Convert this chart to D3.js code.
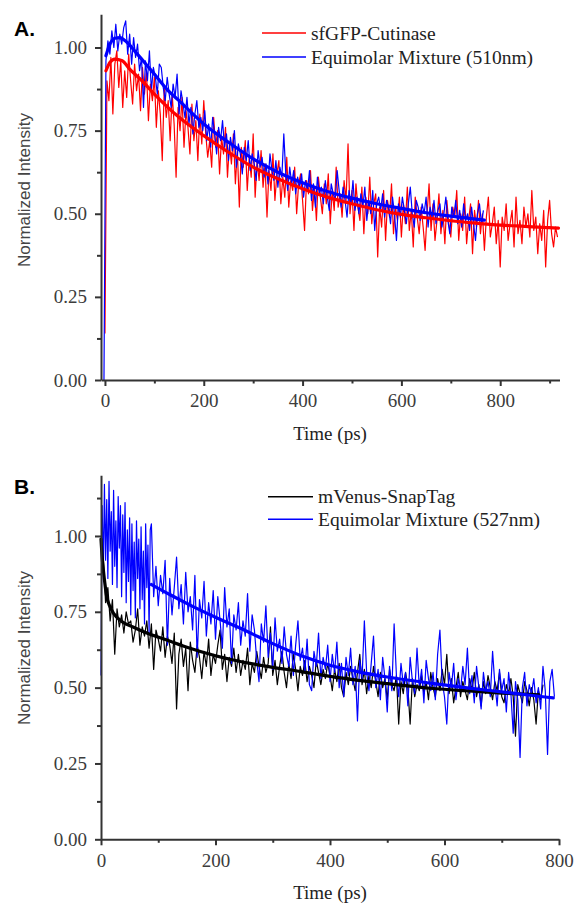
<!DOCTYPE html>
<html>
<head>
<meta charset="utf-8">
<script src="https://cdn.jsdelivr.net/npm/d3@7"></script>
<style>
  html, body { margin: 0; padding: 0; background: #fff; }
  svg { display: block; }
</style>
</head>
<body>
<svg id="chart" width="575" height="903"></svg>
<script>
/* =========================================
   Time-resolved fluorescence decays
   Panel A: sfGFP-Cutinase vs mixture (510nm)
   Panel B: mVenus-SnapTag vs mixture (527nm)
   ========================================= */

// ---- Shared ticks ----
const yMajor = [0, 0.25, 0.5, 0.75, 1.0];
const xMajor = [0, 200, 400, 600, 800];

// ---- Panel A data (sampled every 4 ps) ----
const aDt = 4;
const aRedStart = 0;
const aBlueStart = -2;

const aRedData = [
  0.14, 0.90, 0.84, 0.97, 0.80, 0.95, 0.99, 0.88, 0.96, 0.82,
  0.93, 0.85, 0.98, 0.90, 0.83, 0.95, 0.87, 0.92, 0.81, 0.94,
  0.86, 0.93, 0.78, 0.89, 0.84, 0.91, 0.76, 0.87, 0.80, 0.66,
  0.88, 0.79, 0.84, 0.72, 0.86, 0.77, 0.61, 0.82, 0.75, 0.85,
  0.70, 0.81, 0.76, 0.68, 0.83, 0.72, 0.78, 0.66, 0.80, 0.71,
  0.84, 0.74, 0.67, 0.72, 0.64, 0.79, 0.70, 0.75, 0.62, 0.73,
  0.68, 0.76, 0.61, 0.71, 0.65, 0.74, 0.59, 0.69, 0.52, 0.70,
  0.64, 0.72, 0.57, 0.67, 0.61, 0.74, 0.55, 0.66, 0.60, 0.69,
  0.58, 0.65, 0.49, 0.63, 0.57, 0.68, 0.54, 0.62, 0.66, 0.53,
  0.61, 0.55, 0.67, 0.52, 0.60, 0.57, 0.64, 0.50, 0.59, 0.62,
  0.54, 0.45, 0.60, 0.56, 0.63, 0.51, 0.58, 0.48, 0.61, 0.55,
  0.50, 0.59, 0.53, 0.62, 0.47, 0.57, 0.51, 0.64, 0.52, 0.56,
  0.49, 0.60, 0.54, 0.71, 0.50, 0.57, 0.45, 0.59, 0.52, 0.48,
  0.58, 0.44, 0.55, 0.50, 0.61, 0.47, 0.53, 0.56, 0.37, 0.52,
  0.46, 0.57, 0.42, 0.54, 0.49, 0.59, 0.44, 0.52, 0.48, 0.55,
  0.43, 0.53, 0.47, 0.58, 0.45, 0.51, 0.40, 0.55, 0.49, 0.44,
  0.52, 0.46, 0.39, 0.50, 0.59, 0.45, 0.53, 0.42, 0.48, 0.56,
  0.44, 0.51, 0.41, 0.54, 0.47, 0.43, 0.52, 0.49, 0.57, 0.42,
  0.50, 0.45, 0.55, 0.41, 0.48, 0.53, 0.38, 0.51, 0.46, 0.54,
  0.44, 0.50, 0.39, 0.49, 0.55, 0.43, 0.47, 0.52, 0.41, 0.48,
  0.34, 0.49, 0.45, 0.53, 0.42, 0.47, 0.51, 0.40, 0.55, 0.44,
  0.48, 0.41, 0.52, 0.46, 0.50, 0.43, 0.57, 0.45, 0.49, 0.38,
  0.47, 0.42, 0.51, 0.34, 0.48, 0.54, 0.44, 0.40, 0.46, 0.43
];

const aBlueData = [
  0.00, 0.96, 1.02, 0.98, 1.05, 1.00, 1.07, 0.99, 1.04, 1.01,
  1.06, 1.08, 0.98, 1.04, 0.95, 1.03, 0.97, 1.01, 0.93, 0.97,
  0.82, 0.96, 0.90, 0.99, 0.87, 0.94, 0.91, 0.86, 0.95, 0.94,
  0.88, 0.84, 0.91, 0.86, 0.82, 0.89, 0.85, 0.92, 0.80, 0.87,
  0.83, 0.79, 0.85, 0.77, 0.82, 0.74, 0.80, 0.84, 0.76, 0.79,
  0.75, 0.81, 0.72, 0.77, 0.70, 0.79, 0.74, 0.68, 0.76, 0.72,
  0.78, 0.70, 0.74, 0.66, 0.73, 0.69, 0.75, 0.64, 0.71, 0.68,
  0.62, 0.70, 0.66, 0.72, 0.63, 0.68, 0.65, 0.60, 0.69, 0.64,
  0.67, 0.61, 0.65, 0.59, 0.68, 0.63, 0.60, 0.66, 0.58, 0.64,
  0.61, 0.74, 0.62, 0.57, 0.64, 0.59, 0.63, 0.56, 0.61, 0.58,
  0.62, 0.55, 0.60, 0.57, 0.63, 0.54, 0.59, 0.52, 0.61, 0.56,
  0.58, 0.53, 0.60, 0.55, 0.51, 0.59, 0.56, 0.54, 0.63, 0.57,
  0.52, 0.58, 0.54, 0.49, 0.57, 0.53, 0.60, 0.51, 0.55, 0.50,
  0.56, 0.52, 0.58, 0.48, 0.54, 0.50, 0.57, 0.45, 0.53, 0.55,
  0.51, 0.56, 0.49, 0.54, 0.52, 0.47, 0.55, 0.50, 0.42, 0.53,
  0.49, 0.55, 0.51, 0.47, 0.53, 0.58, 0.50, 0.46, 0.54, 0.52,
  0.48, 0.53, 0.50, 0.55, 0.46, 0.52, 0.49, 0.54, 0.47, 0.51,
  0.53, 0.46, 0.50, 0.55, 0.48, 0.44, 0.52, 0.49, 0.54, 0.47,
  0.51, 0.46, 0.53, 0.48, 0.50, 0.45, 0.52, 0.47, 0.42, 0.50,
  0.53, 0.47, 0.51
];

// fitted decays
const aRedFitT = [2, 10, 20, 35, 50, 75, 100, 150, 200, 250, 300, 350, 400, 450, 500, 550, 600, 650, 700, 750, 800, 850, 900, 918];
const aRedFitV = [0.93, 0.955, 0.965, 0.96, 0.935, 0.90, 0.86, 0.79, 0.735, 0.685, 0.64, 0.605, 0.575, 0.55, 0.53, 0.512, 0.498, 0.488, 0.479, 0.472, 0.466, 0.462, 0.458, 0.457];
const aBlueFitT = [2, 10, 20, 30, 45, 60, 80, 100, 125, 150, 200, 250, 300, 350, 400, 450, 500, 550, 600, 650, 700, 750, 768];
const aBlueFitV = [0.975, 1.01, 1.028, 1.03, 1.015, 0.99, 0.955, 0.92, 0.875, 0.84, 0.77, 0.715, 0.665, 0.625, 0.593, 0.567, 0.547, 0.53, 0.516, 0.503, 0.493, 0.484, 0.481];

const aLegend = ['sfGFP-Cutinase', 'Equimolar Mixture (510nm)'];

// ---- Panel B data ----
const bDt = 4;
const bBlackStart = 0;

const bBlackData = [
  0.97, 0.93, 0.78, 0.83, 0.72, 0.79, 0.61, 0.76, 0.70, 0.74,
  0.68, 0.75, 0.71, 0.72, 0.65, 0.69, 0.76, 0.64, 0.70, 0.67,
  0.72, 0.63, 0.71, 0.56, 0.69, 0.66, 0.62, 0.70, 0.60, 0.67,
  0.64, 0.58, 0.68, 0.43, 0.61, 0.66, 0.57, 0.63, 0.49, 0.65,
  0.59, 0.55, 0.64, 0.60, 0.53, 0.62, 0.57, 0.66, 0.54, 0.61,
  0.58, 0.64, 0.69, 0.56, 0.61, 0.52, 0.60, 0.57, 0.63, 0.55,
  0.61, 0.54, 0.59, 0.56, 0.63, 0.51, 0.58, 0.55, 0.62, 0.57,
  0.53, 0.60, 0.55, 0.58, 0.70, 0.54, 0.59, 0.51, 0.57, 0.62,
  0.55, 0.50, 0.58, 0.53, 0.61, 0.56, 0.49, 0.57, 0.54, 0.59,
  0.52, 0.57, 0.54, 0.50, 0.59, 0.55, 0.51, 0.56, 0.53, 0.58,
  0.54, 0.49, 0.56, 0.52, 0.58, 0.50, 0.47, 0.55, 0.51, 0.57,
  0.53, 0.49, 0.55, 0.61, 0.51, 0.56, 0.48, 0.54, 0.50, 0.57,
  0.52, 0.47, 0.55, 0.50, 0.53, 0.46, 0.56, 0.51, 0.49, 0.54,
  0.38, 0.52, 0.48, 0.55, 0.50, 0.38, 0.53, 0.47, 0.51, 0.49,
  0.54, 0.48, 0.52, 0.46, 0.55, 0.50, 0.47, 0.53, 0.49, 0.56,
  0.51, 0.61, 0.48, 0.53, 0.45, 0.50, 0.55, 0.47, 0.52, 0.49,
  0.46, 0.53, 0.49, 0.55, 0.47, 0.51, 0.44, 0.52, 0.48, 0.54,
  0.50, 0.46, 0.52, 0.49, 0.55, 0.47, 0.45, 0.51, 0.48, 0.53,
  0.47, 0.34, 0.51, 0.48, 0.45, 0.52, 0.49, 0.44, 0.50, 0.46,
  0.38, 0.49, 0.46, 0.51
];

// mixture: dense early window (2 ps, 0-86 ps), then every 4 ps from 88 ps
const bBlueEarlyStart = 0;
const bBlueEarlyDt = 2;
const bBlueEarly = [
  0.54, 1.10, 0.88, 1.17, 0.92, 1.12, 0.86, 1.18, 0.95, 1.08,
  0.84, 1.15, 0.90, 1.05, 0.83, 1.13, 0.96, 1.10, 0.80, 1.07,
  0.88, 1.11, 0.78, 1.02, 0.85, 1.06, 0.74, 1.04, 0.82, 0.98,
  0.73, 1.05, 0.86, 0.99, 0.76, 1.03, 0.79, 0.95, 0.71, 1.04,
  0.83, 0.97, 0.68, 1.02
];
const bBlueStart = 88;
const bBlueData = [
  1.04, 0.80, 0.90, 0.77, 0.87, 0.81, 0.92, 0.64,
  0.86, 0.74, 0.83, 0.93, 0.76, 0.84, 0.71, 0.88, 0.75, 0.80,
  0.69, 0.87, 0.60, 0.79, 0.73, 0.85, 0.67, 0.78, 0.71, 0.82,
  0.66, 0.80, 0.72, 0.63, 0.83, 0.70, 0.76, 0.58, 0.74, 0.69,
  0.78, 0.64, 0.72, 0.67, 0.81, 0.62, 0.74, 0.69, 0.59, 0.52,
  0.71, 0.65, 0.77, 0.60, 0.68, 0.56, 0.73, 0.62, 0.66, 0.58,
  0.70, 0.61, 0.57, 0.67, 0.54, 0.64, 0.72, 0.59, 0.63, 0.55,
  0.66, 0.51, 0.49, 0.62, 0.57, 0.68, 0.53, 0.60, 0.56, 0.64,
  0.52, 0.61, 0.55, 0.65, 0.50, 0.58, 0.47, 0.60, 0.54, 0.63,
  0.51, 0.57, 0.39, 0.59, 0.53, 0.72, 0.55, 0.49, 0.58, 0.67,
  0.50, 0.56, 0.46, 0.60, 0.53, 0.42, 0.57, 0.49, 0.71, 0.54,
  0.47, 0.58, 0.51, 0.55, 0.44, 0.60, 0.52, 0.48, 0.63, 0.50,
  0.56, 0.45, 0.59, 0.53, 0.49, 0.55, 0.46, 0.61, 0.69, 0.52,
  0.47, 0.38, 0.55, 0.50, 0.58, 0.46, 0.53, 0.49, 0.57, 0.51,
  0.63, 0.48, 0.54, 0.45, 0.57, 0.50, 0.43, 0.55, 0.49, 0.52,
  0.47, 0.62, 0.51, 0.44, 0.56, 0.49, 0.53, 0.42, 0.55, 0.48,
  0.35, 0.52, 0.46, 0.27, 0.50, 0.55, 0.44, 0.51, 0.48, 0.53,
  0.45, 0.50, 0.43, 0.57, 0.49, 0.28, 0.52, 0.56, 0.47
];

const bBlackFitT = [0, 2, 4, 7, 10, 15, 22, 35, 56, 80, 115, 150, 200, 260, 300, 350, 400, 450, 500, 575, 650, 700, 765];
const bBlackFitV = [0.99, 0.93, 0.89, 0.84, 0.80, 0.77, 0.745, 0.72, 0.70, 0.68, 0.657, 0.633, 0.605, 0.58, 0.567, 0.553, 0.537, 0.524, 0.513, 0.498, 0.488, 0.482, 0.476];
const bBlueFitT = [88, 120, 160, 200, 250, 300, 350, 400, 450, 500, 575, 650, 700, 750, 790];
const bBlueFitV = [0.84, 0.807, 0.768, 0.732, 0.69, 0.645, 0.605, 0.574, 0.552, 0.535, 0.515, 0.497, 0.486, 0.475, 0.466];

const bLegend = ['mVenus-SnapTag', 'Equimolar Mixture (527nm)'];

// ---- Styling ----
const AXIS_COLOR = '#333';
const TEXT_COLOR = '#3c3c3c';
const SERIF = '"Liberation Serif", "Times New Roman", "DejaVu Serif", serif';
const SANS = '"Liberation Sans", Arial, sans-serif';

const svg = d3.select('#chart');

const toPoints = (values, t0, dt) => values.map((v, i) => [t0 + i * dt, v]);
const zipFit = (ts, vs) => ts.map((t, i) => [t, vs[i]]);

function drawPanel(p) {
  const g = svg.append('g');

  const x = d3.scaleLinear().domain(p.xDomain).range(p.xRange);
  const y = d3.scaleLinear().domain(p.yDomain).range(p.yRange);

  const line = d3.line().x(d => x(d[0])).y(d => y(d[1]));
  const smooth = d3.line().x(d => x(d[0])).y(d => y(d[1])).curve(d3.curveMonotoneX);

  // ---- Raw decays ----
  p.raw.forEach(s => {
    g.append('path')
      .datum(s.points)
      .attr('d', line)
      .attr('fill', 'none')
      .attr('stroke', s.color)
      .attr('stroke-width', 1.2)
      .attr('stroke-linejoin', 'round');
  });

  // ---- Fits ----
  p.fits.forEach(s => {
    g.append('path')
      .datum(s.points)
      .attr('d', smooth)
      .attr('fill', 'none')
      .attr('stroke', s.color)
      .attr('stroke-width', 3.2)
      .attr('stroke-linecap', 'round');
  });

  // ---- Axes ----
  const y0 = p.yRange[0];
  const x0 = p.xRange[0];

  const xAxis = d3.axisBottom(x).tickValues(xMajor).tickSize(6).tickSizeOuter(0).tickPadding(8).tickFormat(d3.format('d'));
  const xMinorAxis = d3.axisBottom(x).tickValues(p.xMinor).tickSize(3.5).tickFormat('');
  const yAxis = d3.axisLeft(y).tickValues(yMajor).tickSize(6).tickSizeOuter(0).tickPadding(8).tickFormat(d3.format('.2f'));
  const yMinorAxis = d3.axisLeft(y).tickValues(p.yMinor).tickSize(4).tickFormat('');

  const styleAxis = sel => {
    sel.attr('font-family', null).style('font-family', SERIF);
    sel.selectAll('path, line').attr('stroke', AXIS_COLOR).attr('stroke-width', 2);
    sel.selectAll('text')
      .attr('fill', TEXT_COLOR)
      .style('font-family', SERIF)
      .style('font-size', '19px');
  };

  g.append('g').attr('transform', `translate(0,${y0})`).call(xMinorAxis)
    .call(a => a.select('.domain').remove()).call(styleAxis);
  g.append('g').attr('transform', `translate(${x0},0)`).call(yMinorAxis)
    .call(a => a.select('.domain').remove()).call(styleAxis);
  g.append('g').attr('transform', `translate(0,${y0})`).call(xAxis).call(styleAxis);
  g.append('g').attr('transform', `translate(${x0},0)`).call(yAxis).call(styleAxis);

  // ---- Axis titles ----
  g.append('text')
    .attr('x', p.xTitle[0]).attr('y', p.xTitle[1])
    .attr('text-anchor', 'middle')
    .style('font-family', SERIF)
    .style('font-size', '19px')
    .attr('fill', '#222')
    .text('Time (ps)');

  g.append('text')
    .attr('transform', `translate(${p.yTitle[0]},${p.yTitle[1]}) rotate(-90)`)
    .attr('text-anchor', 'middle')
    .style('font-family', SANS)
    .style('font-size', '17px')
    .attr('fill', '#444')
    .text('Normalized Intensity');

  // ---- Panel letter ----
  g.append('text')
    .attr('x', 14).attr('y', p.letterY)
    .style('font-family', SANS)
    .style('font-weight', 'bold')
    .style('font-size', '21px')
    .attr('fill', '#000')
    .text(p.letter);

  // ---- Legend ----
  const lg = g.append('g');
  p.legend.forEach((name, i) => {
    const ly = p.legendY[i];
    lg.append('line')
      .attr('x1', p.legendX[0]).attr('x2', p.legendX[1])
      .attr('y1', ly).attr('y2', ly)
      .attr('stroke', p.raw[i].color)
      .attr('stroke-width', 1.6);
    lg.append('text')
      .attr('x', p.legendX[1] + 5).attr('y', ly + 6.5)
      .style('font-family', SERIF)
      .style('font-size', '19.5px')
      .attr('fill', '#222')
      .text(name);
  });
}

drawPanel({
  letter: 'A.', letterY: 36,
  xDomain: [-8, 920], xRange: [101, 559.5],
  yDomain: [0, 1.1], yRange: [380, 14.25],
  xMinor: [100, 300, 500, 700, 900],
  yMinor: [0.125, 0.375, 0.625, 0.875],
  raw: [
    { color: '#ff0000', points: toPoints(aRedData, aRedStart, aDt) },
    { color: '#0000ff', points: toPoints(aBlueData, aBlueStart, aDt) }
  ],
  fits: [
    { color: '#ff0000', points: zipFit(aRedFitT, aRedFitV) },
    { color: '#0000ff', points: zipFit(aBlueFitT, aBlueFitV) }
  ],
  legend: aLegend, legendX: [262, 306], legendY: [33, 57],
  xTitle: [330, 439.5], yTitle: [30, 190]
});

drawPanel({
  letter: 'B.', letterY: 494,
  xDomain: [0, 800], xRange: [101, 559],
  yDomain: [0, 1.2], yRange: [839.3, 475.3],
  xMinor: [100, 300, 500, 700],
  yMinor: [0.125, 0.375, 0.625, 0.875, 1.125],
  raw: [
    { color: '#000000', points: toPoints(bBlackData, bBlackStart, bDt) },
    { color: '#0000ff', points: toPoints(bBlueEarly, bBlueEarlyStart, bBlueEarlyDt)
        .concat(toPoints(bBlueData, bBlueStart, bDt)) }
  ],
  fits: [
    { color: '#000000', points: zipFit(bBlackFitT, bBlackFitV) },
    { color: '#0000ff', points: zipFit(bBlueFitT, bBlueFitV) }
  ],
  legend: bLegend, legendX: [268, 313], legendY: [496.7, 519.3],
  xTitle: [330, 899], yTitle: [30, 648]
});
</script>
</body>
</html>
